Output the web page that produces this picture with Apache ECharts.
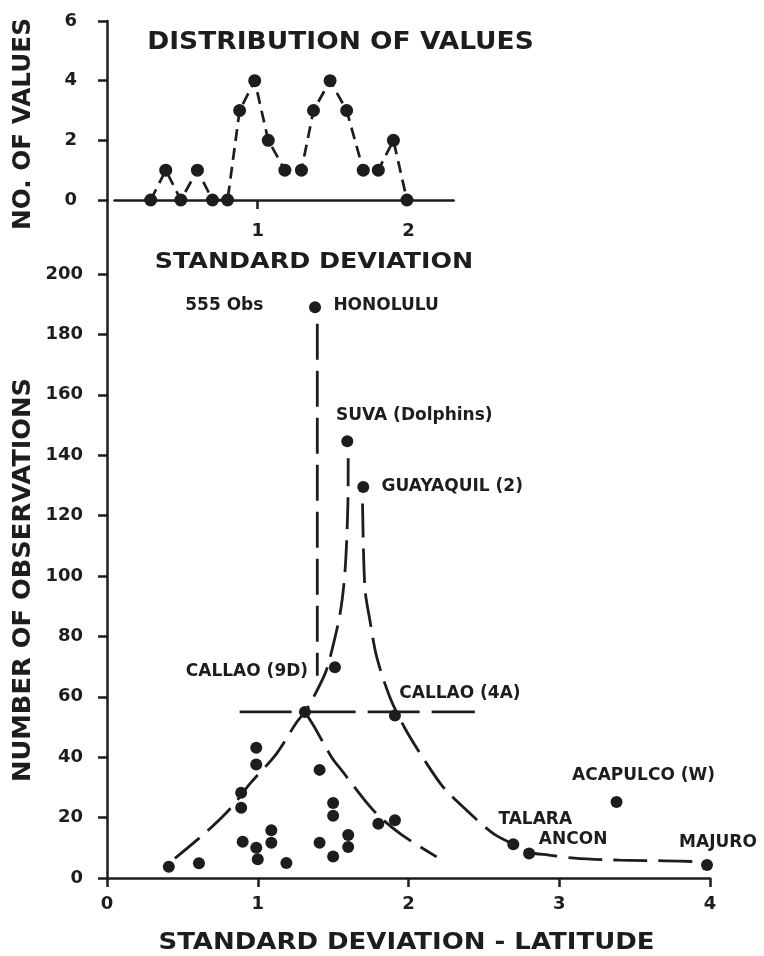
<!DOCTYPE html>
<html>
<head>
<meta charset="utf-8">
<script src="https://cdn.jsdelivr.net/npm/echarts@6/dist/echarts.min.js"></script>
<style>
html,body{margin:0;padding:0;background:#fff;}
#chart{width:764px;height:956px;}
</style>
</head>
<body>
<div id="chart"></div>
<script>
// ---- Upper panel: distribution of values ----
const distX = [0.29, 0.39, 0.49, 0.60, 0.70, 0.80, 0.88, 0.98, 1.07, 1.18, 1.29, 1.37, 1.48, 1.59, 1.70, 1.80, 1.90, 1.99];
const distCounts = [0, 1, 0, 1, 0, 0, 3, 4, 2, 1, 1, 3, 4, 3, 1, 1, 2, 0];
const distYMin = 0, distYMax = 6, distYStep = 2;
const distXTicks = [1];
const distXLabels = [1, 2];

// ---- Lower panel: named stations ----
const stationNames = ['HONOLULU', 'SUVA (Dolphins)', 'GUAYAQUIL (2)', 'CALLAO (9D)', 'CALLAO (4A)', 'TALARA', 'ANCON', 'ACAPULCO (W)', 'MAJURO'];
const stationX = [1.38, 1.594, 1.70, 1.512, 1.91, 2.695, 2.80, 3.38, 3.98];
const stationY = [189, 144.6, 129.5, 69.8, 53.8, 11.2, 8.1, 25.2, 4.3];
const honoluluNote = '555 Obs';

// ---- Lower panel: unnamed stations ----
const otherX = [1.313, 0.41, 0.61, 0.89, 0.89, 0.99, 0.99, 0.90, 0.99, 1.00, 1.09, 1.09, 1.19, 1.41, 1.50, 1.50, 1.41, 1.50, 1.60, 1.60, 1.80, 1.91];
const otherY = [55, 3.7, 4.9, 28.2, 23.3, 43.1, 37.6, 12.0, 10.0, 6.2, 15.8, 11.7, 5.0, 35.8, 24.8, 20.6, 11.7, 7.1, 14.2, 10.3, 18.0, 19.1];

// ---- Lower panel: dashed guide curves ----
const honoluluLineX = [1.395, 1.395];
const honoluluLineY = [183.5, 67];
const crossLineX = [0.88, 2.44];
const crossLineY = [55, 55];
const risingX = [0.45, 0.66, 0.82, 0.95, 1.125, 1.258, 1.313, 1.358, 1.446, 1.48, 1.546, 1.579, 1.598, 1.60];
const risingY = [6.5, 15.3, 23.1, 31.3, 41.2, 51.6, 55, 58.7, 67.6, 73, 87.5, 101.7, 124, 139];
const fallingX = [1.695, 1.711, 1.745, 1.789, 1.877, 1.977, 2.10, 2.23, 2.386, 2.563, 2.695, 2.80, 2.93, 3.10, 3.40, 3.70, 3.93];
const fallingY = [124, 96, 85, 73.2, 59.8, 49.5, 39.5, 30.1, 22.4, 14.7, 11.2, 8.5, 7.6, 6.6, 5.9, 5.7, 5.4];
const lowerX = [1.313, 1.37, 1.49, 1.557, 1.767, 1.944, 2.187];
const lowerY = [55, 50.5, 40, 35.6, 22.4, 14.7, 7.0];

// ---- Lower panel axes ----
const obsTicks = [0, 20, 40, 60, 80, 100, 120, 140, 160, 180, 200];
const sdMin = 0, sdMax = 4, sdStep = 1;

// ---------------- styling ----------------
const INK = '#1d1d1d';
const FONT = 'DejaVu Sans';
const labelOffsets = {
  'HONOLULU': [-3, -2],
  'SUVA (Dolphins)': [67, -26],
  'GUAYAQUIL (2)': [89, 0],
  'CALLAO (9D)': [-88, 4],
  'CALLAO (4A)': [65, -22],
  'TALARA': [22, -25],
  'ANCON': [44, -14],
  'ACAPULCO (W)': [27, -26],
  'MAJURO': [11, -22]
};

const zip = (xs, ys) => xs.map((x, i) => [x, ys[i]]);
const axisLineStyle = { color: INK, width: 2.5 };
const tickLabel = { color: INK, fontFamily: FONT, fontWeight: 'bold', fontSize: 18 };
const pointLabel = { color: INK, fontFamily: FONT, fontWeight: 'bold', fontSize: 17, opacity: 1 };

const stationData = stationNames.map((name, i) => {
  const item = { name: name, value: [stationX[i], stationY[i]],
    label: { show: true, position: 'inside', offset: labelOffsets[name], ...pointLabel } };
  if (name === 'HONOLULU') {
    item.label.formatter = '{a|' + honoluluNote + '}{g|}{b|' + name + '}';
    item.label.rich = { a: { ...pointLabel }, g: { width: 70 }, b: { ...pointLabel } };
  } else {
    item.label.formatter = name;
  }
  return item;
});

function dashedLine(xs, ys, dash, smooth) {
  return {
    type: 'line', xAxisIndex: 1, yAxisIndex: 1, data: zip(xs, ys),
    symbol: 'none', smooth: smooth, silent: true, z: 2,
    lineStyle: { color: INK, width: 2.8, type: dash, cap: 'butt', opacity: 1 }
  };
}

function gtext(text, x, y, size, sx, rot) {
  return {
    type: 'text', x: x, y: y, rotation: rot || 0, scaleX: sx,
    style: { text: text, fill: INK, font: 'bold ' + size + 'px "' + FONT + '"', align: 'center', verticalAlign: 'middle' }
  };
}

const chart = echarts.init(document.getElementById('chart'), null, { renderer: 'canvas' });
chart.setOption({
  backgroundColor: '#ffffff',
  animation: false,
  grid: [
    { left: 114.5, top: 21, width: 339.2, height: 179, outerBoundsMode: 'none' },
    { left: 107, top: 200, width: 603, height: 678, outerBoundsMode: 'none' }
  ],
  xAxis: [
    { gridIndex: 0, type: 'value', min: 0.05, max: 2.3, position: 'bottom',
      axisLine: { show: true, onZero: false, lineStyle: axisLineStyle },
      axisTick: { show: true, customValues: distXTicks, length: 9, lineStyle: axisLineStyle },
      axisLabel: { show: true, customValues: distXLabels, margin: 22, ...tickLabel },
      splitLine: { show: false } },
    { gridIndex: 1, type: 'value', min: sdMin, max: sdMax, interval: sdStep, position: 'bottom',
      axisLine: { show: true, onZero: false, lineStyle: axisLineStyle },
      axisTick: { show: true, length: 9, lineStyle: axisLineStyle },
      axisLabel: { show: true, margin: 17, ...tickLabel },
      splitLine: { show: false } }
  ],
  yAxis: [
    { gridIndex: 0, type: 'value', min: distYMin, max: distYMax, interval: distYStep, offset: 7.5,
      axisLine: { show: true, onZero: false, lineStyle: axisLineStyle },
      axisTick: { show: true, length: 9, lineStyle: axisLineStyle },
      axisLabel: { show: true, margin: 30, ...tickLabel },
      splitLine: { show: false } },
    { gridIndex: 1, type: 'value', min: 0, max: 224.5,
      axisLine: { show: true, onZero: false, lineStyle: axisLineStyle },
      axisTick: { show: true, customValues: obsTicks, length: 9, lineStyle: axisLineStyle },
      axisLabel: { show: true, customValues: obsTicks, margin: 24, ...tickLabel },
      splitLine: { show: false } }
  ],
  series: [
    { type: 'line', xAxisIndex: 0, yAxisIndex: 0, data: zip(distX, distCounts),
      symbol: 'circle', symbolSize: 13, itemStyle: { color: INK, opacity: 1 },
      lineStyle: { color: INK, width: 2.7, type: [12, 7] }, z: 3 },
    dashedLine(honoluluLineX, honoluluLineY, [36, 11], false),
    dashedLine(crossLineX, crossLineY, [52, 12], false),
    dashedLine(risingX, risingY, [32, 11], 0.3),
    dashedLine(fallingX, fallingY, [34, 11], 0.3),
    dashedLine(lowerX, lowerY, [34, 11], 0.3),
    { type: 'scatter', xAxisIndex: 1, yAxisIndex: 1, data: zip(otherX, otherY),
      symbol: 'circle', symbolSize: 12, itemStyle: { color: INK, opacity: 1 }, z: 4 },
    { type: 'scatter', xAxisIndex: 1, yAxisIndex: 1, data: stationData,
      symbol: 'circle', symbolSize: 12, itemStyle: { color: INK, opacity: 1 }, z: 5 }
  ],
  graphic: [
    gtext('DISTRIBUTION OF VALUES', 340.5, 42, 25, 1.06),
    gtext('STANDARD DEVIATION', 314, 262, 22, 1.15),
    gtext('STANDARD DEVIATION - LATITUDE', 406.5, 943, 23, 1.13),
    gtext('NO. OF VALUES', 24, 124, 24, 1.03, Math.PI / 2),
    gtext('NUMBER OF OBSERVATIONS', 24, 580, 24, 1.07, Math.PI / 2)
  ]
});
</script>
</body>
</html>
